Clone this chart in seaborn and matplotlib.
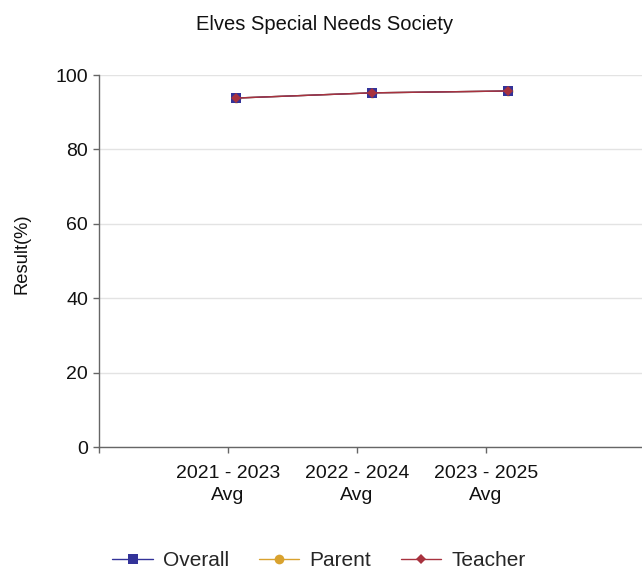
import pandas as pd
import seaborn as sns
import matplotlib.pyplot as plt

# chart data
periods = ["2021 - 2023\nAvg", "2022 - 2024\nAvg", "2023 - 2025\nAvg"]
overall = [93.8, 95.2, 95.7]
parent = [93.8, 95.2, 95.7]
teacher = [93.8, 95.2, 95.7]

series = {"Overall": overall, "Parent": parent, "Teacher": teacher}
colors = {"Overall": "#333399", "Parent": "#d9a22e", "Teacher": "#a8323e"}
markers = {"Overall": "s", "Parent": "o", "Teacher": "D"}
msizes = {"Overall": 7.5, "Parent": 7, "Teacher": 5.5}

sns.set_theme(style="white")
plt.rcParams['font.family'] = ['Liberation Sans', 'DejaVu Sans']

fig = plt.figure(figsize=(6.42, 5.69), dpi=100)
ax = fig.add_axes([99 / 642, 1 - 447 / 569, 1 - 99 / 642, (447 - 75) / 569])

pos = list(range(len(periods)))
# parent sits underneath overall in the reference
order = ["Parent", "Overall", "Teacher"]
for name in order:
    df = pd.DataFrame({"x": pos, "y": series[name]})
    sns.lineplot(data=df, x="x", y="y", ax=ax, color=colors[name], marker=markers[name],
                 markersize=msizes[name], markeredgewidth=0, linewidth=1, label=name)

ax.set_ylim(0, 100)
ax.set_xlim(-1.007, 2.99)
ax.set_yticks([0, 20, 40, 60, 80, 100])
# labels sit slightly left of the markers in the reference
ax.set_xticks([-1.007, -0.059, 0.89, 1.84])
ax.set_xticklabels([""] + periods, linespacing=1.35)
ax.tick_params(axis="both", labelsize=14, colors="#111111", length=4, width=1,
               direction="out", bottom=True, left=True, pad=4)
ax.tick_params(axis="x", pad=9)
ax.tick_params(axis="both", color="#666666")
ax.yaxis.grid(True, color="#e3e3e3", linewidth=1)
ax.set_axisbelow(True)
for s in ["top", "right"]:
    ax.spines[s].set_visible(False)
for s in ["left", "bottom"]:
    ax.spines[s].set_color("#666666")
    ax.spines[s].set_linewidth(1)

ax.set_xlabel("")
ax.set_ylabel("")
fig.text(22 / 642, 1 - 254 / 569, "Result(%)", rotation=90, ha="center", va="center",
         fontsize=13.2, color="#111111")
fig.text(325 / 642, 1 - 25 / 569, "Elves Special Needs Society", ha="center", va="center",
         fontsize=14.5, color="#111111")

handles, labels = ax.get_legend_handles_labels()
lookup = dict(zip(labels, handles))
ax.get_legend().remove()
fig.legend([lookup[n] for n in series], list(series), loc="center",
           bbox_to_anchor=(319 / 642, 8.5 / 569), ncol=3, frameon=False, fontsize=15,
           handlelength=1.95, columnspacing=1.4, handletextpad=0.5, borderpad=0.1)

fig.savefig("out.png", dpi=100)
